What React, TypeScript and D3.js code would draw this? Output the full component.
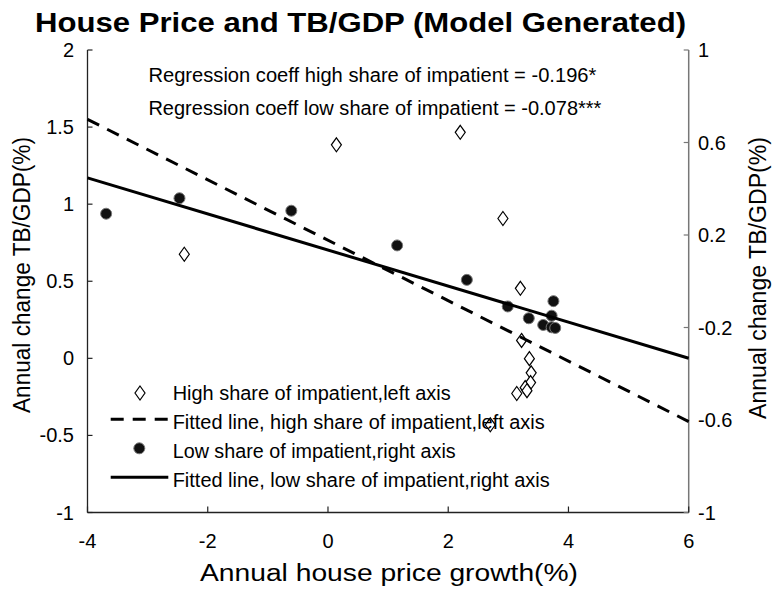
import React from "react";
import * as d3 from "d3";

const W = 774;
const H = 593;

const xTicks = [-4, -2, 0, 2, 4, 6];
const leftTicks = [-1, -0.5, 0, 0.5, 1, 1.5, 2];
const rightTicks = [-1, -0.6, -0.2, 0.2, 0.6, 1];

// High share of impatient (left axis)
const highX = [-2.39, 0.14, 2.2, 2.91, 3.2, 3.22, 3.35, 3.38, 3.37, 3.28, 3.14, 3.31, 2.7];
const highY = [0.675, 1.385, 1.466, 0.907, 0.454, 0.116, -0.002, -0.094, -0.157, -0.19, -0.228, -0.21, -0.431];

// Low share of impatient (right axis)
const lowX = [-3.69, -2.47, -0.61, 1.15, 2.31, 2.99, 3.34, 3.58, 3.75, 3.72, 3.72, 3.78];
const lowY = [0.292, 0.359, 0.305, 0.155, 0.006, -0.109, -0.16, -0.189, -0.086, -0.149, -0.199, -0.202];

// Fitted lines (endpoints at x = -4 and x = 6)
const fitX = [-4, 6];
const fitHighY = [1.55, -0.41];
const fitLowY = [0.447, -0.333];

const title = "House Price and TB/GDP (Model Generated)";
const xLabel = "Annual house price growth(%)";
const yLabel = "Annual change TB/GDP(%)";
const annotations = [
  "Regression coeff high share of impatient = -0.196*",
  "Regression coeff low share of impatient = -0.078***",
];
const legendLabels = [
  "High share of impatient,left axis",
  "Fitted line, high share of impatient,left axis",
  "Low share of impatient,right axis",
  "Fitted line, low share of impatient,right axis",
];

const FONT = "'Liberation Sans', Arial, Helvetica, sans-serif";

export default function App() {
  const left = 87.5;
  const right = 688.7;
  const top = 50;
  const bottom = 512.5;

  const x = d3.scaleLinear().domain([-4, 6]).range([left, right]);
  const yL = d3.scaleLinear().domain([-1, 2]).range([bottom, top]);
  const yR = d3.scaleLinear().domain([-1, 1]).range([bottom, top]);

  const lineL = d3
    .line<number>()
    .x((_, i) => x(fitX[i]))
    .y((d) => yL(d));
  const lineR = d3
    .line<number>()
    .x((_, i) => x(fitX[i]))
    .y((d) => yR(d));

  const diamond = "M0,-7L5,0L0,7L-5,0Z";

  const annWidths = [448, 453];
  const legW = [278, 372, 283, 377];
  const legBase = [399.5, 428.5, 457.5, 486.5];

  return (
    <svg
      width={W}
      height={H}
      style={{ position: "absolute", left: 0, top: 0, background: "#fff" }}
      fontFamily={FONT}
    >
      <rect x={0} y={0} width={W} height={H} fill="#fff" />
      {/* Title */}
      <text
        x={360.5}
        y={32}
        textAnchor="middle"
        fontSize={28}
        fontWeight="bold"
        textLength={651}
        lengthAdjust="spacingAndGlyphs"
        fill="#000"
      >
        {title}
      </text>

      {/* Axes lines */}
      <line x1={left} y1={top} x2={left} y2={bottom} stroke="#222" strokeWidth={1.3} />
      <line x1={right} y1={top} x2={right} y2={bottom} stroke="#777" strokeWidth={1.5} />
      <line x1={left} y1={bottom} x2={right} y2={bottom} stroke="#222" strokeWidth={1.3} />

      {/* Left ticks */}
      {leftTicks.map((t) => (
        <g key={"l" + t}>
          <line x1={left} x2={left + 5} y1={yL(t)} y2={yL(t)} stroke="#222" strokeWidth={1.2} />
          <text x={74} y={yL(t)} dy="0.35em" textAnchor="end" fontSize={20} fill="#000">
            {String(t)}
          </text>
        </g>
      ))}
      {/* Right ticks */}
      {rightTicks.map((t) => (
        <g key={"r" + t}>
          <line x1={right - 5} x2={right} y1={yR(t)} y2={yR(t)} stroke="#777" strokeWidth={1.2} />
          <text x={698} y={yR(t)} dy="0.35em" textAnchor="start" fontSize={20} fill="#000">
            {String(t)}
          </text>
        </g>
      ))}
      {/* X ticks */}
      {xTicks.map((t) => (
        <g key={"x" + t}>
          <line x1={x(t)} x2={x(t)} y1={bottom} y2={bottom - 6} stroke="#222" strokeWidth={1.2} />
          <text x={x(t)} y={540.5} dy="0.35em" textAnchor="middle" fontSize={20} fill="#000">
            {String(t)}
          </text>
        </g>
      ))}

      {/* Axis titles */}
      <text
        x={389}
        y={581}
        textAnchor="middle"
        fontSize={23.5}
        textLength={378}
        lengthAdjust="spacingAndGlyphs"
        fill="#000"
      >
        {xLabel}
      </text>
      <text
        transform="translate(30,275) rotate(-90)"
        textAnchor="middle"
        fontSize={23}
        textLength={276}
        lengthAdjust="spacingAndGlyphs"
        fill="#000"
      >
        {yLabel}
      </text>
      <text
        transform="translate(766,278) rotate(-90)"
        textAnchor="middle"
        fontSize={23}
        textLength={282}
        lengthAdjust="spacingAndGlyphs"
        fill="#000"
      >
        {yLabel}
      </text>

      {/* Annotations */}
      {annotations.map((a, i) => (
        <text
          key={a}
          x={148.4}
          y={82 + i * 33}
          fontSize={20}
          textLength={annWidths[i]}
          lengthAdjust="spacingAndGlyphs"
          fill="#000"
        >
          {a}
        </text>
      ))}

      {/* High share diamonds */}
      {highX.map((v, i) => (
        <path
          key={"h" + i}
          d={diamond}
          transform={`translate(${x(v)},${yL(highY[i])})`}
          fill="#fff"
          stroke="#000"
          strokeWidth={1.2}
        />
      ))}
      {/* Fitted high (dashed) */}
      <path
        d={lineL(fitHighY) || ""}
        fill="none"
        stroke="#000"
        strokeWidth={3}
        strokeDasharray="13,9"
      />
      {/* Low share dots */}
      {lowX.map((v, i) => (
        <circle
          key={"o" + i}
          cx={x(v)}
          cy={yR(lowY[i])}
          r={5.5}
          fill="#111"
          stroke="#777"
          strokeWidth={1}
        />
      ))}
      {/* Fitted low (solid) */}
      <path d={lineR(fitLowY) || ""} fill="none" stroke="#000" strokeWidth={3} />

      {/* Legend */}
      <g>
        <path d={diamond} transform="translate(140,393)" fill="#fff" stroke="#000" strokeWidth={1.2} />
        <line x1={110.7} x2={168.3} y1={419.3} y2={419.3} stroke="#000" strokeWidth={3} strokeDasharray="13,9" />
        <circle cx={139.3} cy={448.3} r={5.5} fill="#111" stroke="#777" strokeWidth={1} />
        <line x1={110.7} x2={168.3} y1={477.3} y2={477.3} stroke="#000" strokeWidth={3} />
        {legendLabels.map((l, i) => (
          <text
            key={l}
            x={172.7}
            y={legBase[i]}
            fontSize={20}
            textLength={legW[i]}
            lengthAdjust="spacingAndGlyphs"
            fill="#000"
          >
            {l}
          </text>
        ))}
      </g>
    </svg>
  );
}
